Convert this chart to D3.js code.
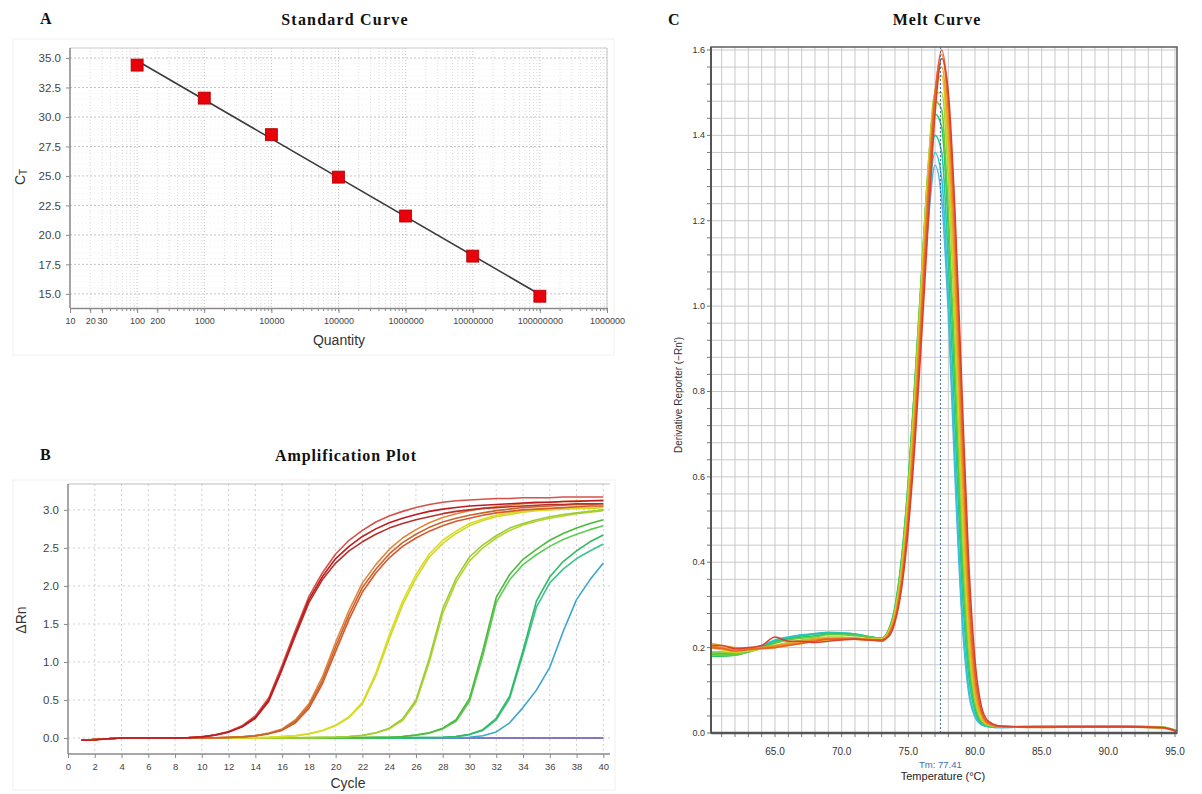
<!DOCTYPE html>
<html><head><meta charset="utf-8">
<script src="https://cdn.jsdelivr.net/npm/d3@7"></script>
<style>body{margin:0;background:#fff}svg{display:block}</style>
</head><body>
<svg id="c" width="1202" height="794"></svg>
<script>
// ---------------- DATA ----------------
// Panel A: standard curve
const stdQuantity = [1e2, 1e3, 1e4, 1e5, 1e6, 1e7, 1e8];
const stdCt = [34.4, 31.6, 28.5, 24.9, 21.6, 18.2, 14.8];
const stdYTicks = [15, 17.5, 20, 22.5, 25, 27.5, 30, 32.5, 35];
const stdXTicks = [10, 20, 30, 100, 200, 1e3, 1e4, 1e5, 1e6, 1e7, 1e8, 1e9];
const stdXTickLabels = ["10","20","30","100","200","1000","10000","100000","1000000","10000000","100000000","1000000"];

// Panel B: amplification plot (ΔRn per cycle)
const cycles = [1,2,3,4,5,6,7,8,9,10,11,12,13,14,15,16,17,18,19,20,21,22,23,24,25,26,27,28,29,30,31,32,33,34,35,36,37,38,39,40];
const ampXTicks = [0,2,4,6,8,10,12,14,16,18,20,22,24,26,28,30,32,34,36,38,40];
const ampYTicks = [0, 0.5, 1.0, 1.5, 2.0, 2.5, 3.0];
const ampRed1 = [-0.03,-0.025,-0.01,0,0,0,0,0,0.005,0.015,0.04,0.08,0.15,0.27,0.5,0.92,1.38,1.82,2.12,2.36,2.52,2.65,2.75,2.83,2.89,2.94,2.98,3.01,3.03,3.05,3.06,3.07,3.08,3.09,3.1,3.1,3.11,3.11,3.12,3.12];
const ampRed2 = [-0.03,-0.02,-0.01,0,0,0,0,0,0.005,0.016,0.042,0.085,0.16,0.29,0.53,0.96,1.42,1.86,2.17,2.42,2.6,2.73,2.84,2.92,2.98,3.03,3.07,3.1,3.12,3.13,3.14,3.15,3.15,3.16,3.16,3.16,3.17,3.17,3.17,3.17];
const ampRed3 = [-0.03,-0.02,-0.01,0,0,0,0,0,0.004,0.014,0.038,0.078,0.145,0.26,0.48,0.9,1.35,1.78,2.08,2.3,2.46,2.58,2.68,2.76,2.82,2.87,2.91,2.95,2.98,3.0,3.02,3.03,3.04,3.05,3.06,3.07,3.07,3.08,3.08,3.08];
const ampOrange1 = [-0.03,-0.02,-0.01,0,0,0,0,0,0,0,0.003,0.008,0.015,0.03,0.06,0.11,0.22,0.42,0.75,1.2,1.62,1.98,2.22,2.42,2.57,2.68,2.77,2.84,2.89,2.93,2.96,2.99,3.01,3.03,3.04,3.05,3.06,3.07,3.07,3.08];
const ampOrange2 = [-0.03,-0.02,-0.01,0,0,0,0,0,0,0,0.003,0.008,0.016,0.032,0.065,0.12,0.24,0.45,0.8,1.26,1.68,2.04,2.28,2.48,2.63,2.74,2.83,2.9,2.95,2.99,3.02,3.04,3.06,3.08,3.09,3.1,3.11,3.12,3.12,3.13];
const ampOrange3 = [-0.03,-0.02,-0.01,0,0,0,0,0,0,0,0.002,0.007,0.014,0.028,0.055,0.1,0.2,0.39,0.71,1.14,1.56,1.92,2.17,2.37,2.52,2.63,2.72,2.79,2.85,2.89,2.93,2.96,2.98,3.0,3.01,3.02,3.03,3.04,3.05,3.05];
const ampYellow1 = [-0.03,-0.02,-0.01,0,0,0,0,0,0,0,0,0,0,0.005,0.01,0.02,0.03,0.06,0.1,0.17,0.28,0.47,0.85,1.35,1.8,2.15,2.42,2.6,2.72,2.82,2.88,2.93,2.96,2.98,3.0,3.01,3.02,3.03,3.03,3.04];
const ampYellow2 = [-0.03,-0.02,-0.01,0,0,0,0,0,0,0,0,0,0,0.004,0.009,0.018,0.028,0.055,0.095,0.16,0.27,0.45,0.82,1.3,1.75,2.1,2.38,2.56,2.69,2.79,2.86,2.91,2.94,2.97,2.99,3.0,3.01,3.02,3.02,3.03];
const ampLime1 = [-0.03,-0.02,-0.01,0,0,0,0,0,0,0,0,0,0,0,0,0,0.003,0.005,0.008,0.012,0.02,0.035,0.07,0.13,0.25,0.5,1.05,1.7,2.1,2.38,2.54,2.66,2.76,2.82,2.87,2.91,2.94,2.96,2.98,3.0];
const ampLime2 = [-0.03,-0.02,-0.01,0,0,0,0,0,0,0,0,0,0,0,0,0,0.003,0.005,0.008,0.012,0.02,0.033,0.065,0.12,0.23,0.47,1.0,1.64,2.05,2.33,2.5,2.63,2.73,2.8,2.85,2.89,2.92,2.95,2.97,2.99];
const ampGreen1 = [-0.03,-0.02,-0.01,0,0,0,0,0,0,0,0,0,0,0,0,0,0,0,0,0,0.003,0.005,0.008,0.01,0.02,0.04,0.07,0.13,0.24,0.52,1.15,1.85,2.15,2.35,2.48,2.6,2.69,2.76,2.82,2.87];
const ampGreen2 = [-0.03,-0.02,-0.01,0,0,0,0,0,0,0,0,0,0,0,0,0,0,0,0,0,0.003,0.005,0.008,0.01,0.02,0.038,0.065,0.12,0.22,0.48,1.08,1.78,2.08,2.28,2.41,2.52,2.61,2.68,2.74,2.79];
const ampTeal1 = [-0.03,-0.02,-0.01,0,0,0,0,0,0,0,0,0,0,0,0,0,0,0,0,0,0,0,0,0,0.003,0.005,0.007,0.01,0.02,0.05,0.11,0.26,0.55,1.15,1.8,2.12,2.32,2.46,2.58,2.67];
const ampTeal2 = [-0.03,-0.02,-0.01,0,0,0,0,0,0,0,0,0,0,0,0,0,0,0,0,0,0,0,0,0,0.003,0.005,0.007,0.01,0.018,0.045,0.1,0.24,0.52,1.1,1.72,2.04,2.22,2.36,2.46,2.55];
const ampCyan = [-0.03,-0.02,-0.01,0,0,0,0,0,0,0,0,0,0,0,0,0,0,0,0,0,0,0,0,0,0,0,0,0.003,0.005,0.01,0.03,0.08,0.2,0.4,0.63,0.93,1.4,1.82,2.08,2.3];
const ampNTC = [-0.03,-0.02,-0.01,0,0,0,0,0,0,0,0,0,0,0,0,0,0,0,0,0,0,0,0,0,0,0,0,0,0,0,0,0,0,0,0,0,0,0,0,0];

// Panel C: melt curve (derivative reporter vs temperature)
const meltTemp = [60.2,61,62,63,64,65,66,67,68,69,70,71,72,73,73.5,74,74.5,75,75.5,76,76.5,77,77.5,78,78.5,79,79.5,80,80.5,81,82,85,88,91,94,95.1];
const meltXTicks = [65, 70, 75, 80, 85, 90, 95];
const meltYTicks = [0, 0.2, 0.4, 0.6, 0.8, 1.0, 1.2, 1.4, 1.6];
const meltTm = 77.41;
const meltRed       = [.205,.205,.198,.2,.205,.225,.215,.215,.212,.215,.218,.22,.218,.218,.225,.26,.34,.48,.68,.93,1.2,1.45,1.58,1.5,1.22,.82,.42,.17,.06,.028,.016,.014,.015,.015,.013,.005];
const meltOrangeRed = [.2,.198,.192,.195,.198,.2,.205,.21,.215,.22,.22,.22,.218,.215,.228,.265,.35,.5,.71,.97,1.25,1.49,1.6,1.48,1.18,.76,.37,.14,.05,.024,.015,.014,.014,.014,.013,.004];
const meltOrange    = [.205,.2,.195,.197,.2,.203,.207,.212,.218,.22,.222,.222,.22,.215,.23,.27,.36,.52,.74,1.0,1.28,1.5,1.59,1.45,1.12,.7,.33,.12,.045,.022,.015,.013,.014,.014,.012,.004];
const meltAmber     = [.21,.205,.2,.198,.2,.205,.21,.215,.22,.222,.222,.22,.218,.218,.232,.275,.37,.53,.76,1.02,1.3,1.5,1.56,1.4,1.06,.64,.29,.1,.04,.02,.015,.014,.015,.014,.013,.005];
const meltYellow    = [.2,.195,.19,.193,.197,.2,.205,.21,.215,.218,.22,.22,.22,.22,.235,.28,.38,.55,.78,1.05,1.32,1.5,1.54,1.35,1.0,.58,.25,.09,.035,.02,.015,.014,.015,.015,.013,.005];
const meltLime      = [.19,.19,.188,.192,.198,.205,.212,.218,.222,.225,.225,.223,.22,.22,.235,.285,.39,.57,.8,1.07,1.33,1.5,1.5,1.3,.94,.52,.22,.08,.03,.018,.014,.015,.016,.015,.014,.005];
const meltGreen     = [.185,.183,.183,.19,.198,.21,.218,.222,.225,.23,.23,.228,.225,.222,.238,.29,.4,.58,.82,1.08,1.33,1.48,1.46,1.22,.86,.46,.19,.07,.028,.018,.014,.016,.016,.015,.014,.006];
const meltGreen2    = [.18,.18,.182,.19,.2,.212,.22,.225,.228,.232,.232,.23,.225,.222,.24,.295,.41,.59,.83,1.08,1.32,1.45,1.42,1.18,.8,.42,.17,.06,.025,.017,.014,.015,.016,.016,.014,.006];
const meltTeal      = [.185,.185,.186,.193,.202,.215,.222,.228,.232,.235,.234,.232,.226,.222,.24,.295,.41,.59,.82,1.06,1.28,1.4,1.36,1.1,.72,.36,.14,.05,.022,.016,.014,.015,.015,.015,.013,.005];
const meltCyan      = [.19,.188,.188,.195,.205,.218,.225,.23,.233,.236,.235,.232,.226,.222,.238,.29,.4,.57,.8,1.03,1.24,1.36,1.3,1.02,.64,.3,.11,.04,.02,.015,.013,.014,.014,.014,.013,.005];
const meltSky       = [.188,.186,.187,.194,.203,.216,.224,.229,.232,.234,.233,.23,.225,.222,.236,.285,.39,.56,.78,1.0,1.2,1.33,1.25,.98,.6,.28,.1,.038,.019,.015,.013,.014,.014,.014,.012,.005];

// ---------------- DRAWING ----------------
const svg = d3.select("#c");
const serif = "'Liberation Serif','Times New Roman',serif";
const sans = "'Liberation Sans',Arial,sans-serif";

function heading(x, y, t, anchor, spacing) {
  svg.append("text").attr("x", x).attr("y", y).attr("text-anchor", anchor)
    .attr("font-family", serif).attr("font-weight", "bold").attr("font-size", 16)
    .attr("letter-spacing", spacing).attr("fill", "#111").text(t);
}
heading(40, 24, "A", "start", 0);
heading(345, 25, "Standard Curve", "middle", 1.2);
heading(40, 460, "B", "start", 0);
heading(346, 461, "Amplification Plot", "middle", 0.9);
heading(668, 25, "C", "start", 0);
heading(937, 25, "Melt Curve", "middle", 1.0);

// faint panel boxes
[[13,39,601,316],[13,480,602,310]].forEach(b => svg.append("rect").attr("x",b[0]).attr("y",b[1]).attr("width",b[2]).attr("height",b[3])
  .attr("fill","none").attr("stroke","#f0f0f0"));

// ===== Panel A =====
(function(){
  const L=70,R=607,T=48,B=308;
  const x = d3.scaleLog().domain([10,1e9]).range([L,R]);
  const y = d3.scaleLinear().domain([13.8,35.85]).range([B,T]);
  const g = svg.append("g");
  // vertical grid (log minors)
  const vgrid = [];
  for (let e=1;e<9;e++) for (let k=1;k<10;k++) vgrid.push(k*Math.pow(10,e));
  vgrid.push(1e9);
  g.selectAll(".vg").data(vgrid).join("line")
    .attr("x1",d=>x(d)).attr("x2",d=>x(d)).attr("y1",T).attr("y2",B)
    .attr("stroke",d=>Math.abs(Math.log10(d)%1)<1e-9?"#c4c4c4":"#dcdcdc")
    .attr("stroke-dasharray","1,2");
  const hgrid = d3.range(14,35.6,0.5);
  g.selectAll(".hg").data(hgrid).join("line")
    .attr("x1",L).attr("x2",R).attr("y1",d=>y(d)).attr("y2",d=>y(d))
    .attr("stroke",d=>(Math.abs(d/2.5-Math.round(d/2.5))<1e-9)?"#c4c4c4":"#ececec")
    .attr("stroke-dasharray",d=>(Math.abs(d/2.5-Math.round(d/2.5))<1e-9)?"2,2":"1,3");
  // frame
  g.append("line").attr("x1",L).attr("x2",R).attr("y1",T).attr("y2",T).attr("stroke","#c8c8c8");
  g.append("line").attr("x1",R).attr("x2",R).attr("y1",T).attr("y2",B).attr("stroke","#c8c8c8");
  // axes
  const ay = d3.axisLeft(y).tickValues(stdYTicks).tickFormat(d3.format(".1f")).tickSize(4).tickSizeOuter(0);
  const gy = g.append("g").attr("transform",`translate(${L},0)`).call(ay);
  gy.select(".domain").attr("stroke","#8a8a8a").attr("stroke-width",1.5).attr("d",`M0,${T}V${B}`);
  gy.selectAll(".tick line").attr("stroke","#8a8a8a");
  gy.selectAll("text").attr("font-family",sans).attr("font-size",11.5).attr("fill","#444").attr("dx",-2);
  const minorX = vgrid.filter(v=>v>10);
  g.selectAll(".mxt").data(minorX).join("line").attr("x1",d=>x(d)).attr("x2",d=>x(d)).attr("y1",B).attr("y2",B+3).attr("stroke","#8a8a8a");
  const ax = d3.axisBottom(x).tickValues(stdXTicks).tickFormat((d,i)=>stdXTickLabels[i]).tickSize(5).tickSizeOuter(0);
  const gx = g.append("g").attr("transform",`translate(0,${B})`).call(ax);
  gx.select(".domain").attr("stroke","#8a8a8a").attr("stroke-width",1.5);
  gx.selectAll(".tick line").attr("stroke","#8a8a8a");
  gx.selectAll("text").attr("font-family",sans).attr("font-size",9).attr("fill","#444").attr("dy","0.9em");
  // fit line (least squares on log10 quantity)
  const lx = stdQuantity.map(Math.log10);
  const mx = d3.mean(lx), my = d3.mean(stdCt);
  const slope = d3.sum(lx.map((v,i)=>(v-mx)*(stdCt[i]-my))) / d3.sum(lx.map(v=>(v-mx)*(v-mx)));
  const icpt = my - slope*mx;
  const q0 = stdQuantity[0], q1 = stdQuantity[stdQuantity.length-1];
  g.append("line").attr("x1",x(q0)).attr("y1",y(icpt+slope*Math.log10(q0)))
    .attr("x2",x(q1)).attr("y2",y(icpt+slope*Math.log10(q1)))
    .attr("stroke","#3c3c3c").attr("stroke-width",1.6);
  g.selectAll(".pt").data(stdQuantity).join("rect")
    .attr("x",d=>x(d)-6).attr("y",(d,i)=>y(stdCt[i])-6).attr("width",12).attr("height",12)
    .attr("fill","#e8000b").attr("stroke","#b00000").attr("stroke-width",0.8);
  // labels
  const cl = svg.append("text").attr("transform","translate(25,177) rotate(-90)").attr("text-anchor","middle")
    .attr("font-family",sans).attr("font-size",14).attr("fill","#333");
  cl.append("tspan").text("C");
  cl.append("tspan").attr("font-size",10).attr("dy",2).text("T");
  svg.append("text").attr("x",339).attr("y",345).attr("text-anchor","middle")
    .attr("font-family",sans).attr("font-size",14).attr("fill","#333").text("Quantity");
})();

// ===== Panel B =====
(function(){
  const L=68,R=610,T=484,B=754;
  const x = d3.scaleLinear().domain([0,40.5]).range([L,R]);
  const y = d3.scaleLinear().domain([-0.21,3.34]).range([B,T]);
  const g = svg.append("g");
  g.selectAll(".vg").data(ampXTicks.filter(d=>d>0)).join("line")
    .attr("x1",d=>x(d)).attr("x2",d=>x(d)).attr("y1",T).attr("y2",B)
    .attr("stroke","#d0d0d0").attr("stroke-dasharray","2,3");
  g.selectAll(".hg").data(ampYTicks).join("line")
    .attr("x1",L).attr("x2",R).attr("y1",d=>y(d)).attr("y2",d=>y(d))
    .attr("stroke","#d0d0d0").attr("stroke-dasharray","2,3");
  g.append("line").attr("x1",L).attr("x2",R).attr("y1",T).attr("y2",T).attr("stroke","#bdbdbd");
  const ay = d3.axisLeft(y).tickValues(ampYTicks).tickFormat(d3.format(".1f")).tickSize(4).tickSizeOuter(0);
  const gy = g.append("g").attr("transform",`translate(${L},0)`).call(ay);
  gy.select(".domain").attr("stroke","#8a8a8a").attr("stroke-width",1.5).attr("d",`M0,${T}V${B}`);
  gy.selectAll(".tick line").attr("stroke","#8a8a8a");
  gy.selectAll("text").attr("font-family",sans).attr("font-size",11.5).attr("fill","#444").attr("dx",-2);
  const ax = d3.axisBottom(x).tickValues(ampXTicks).tickFormat(d3.format("d")).tickSize(4).tickSizeOuter(0);
  const gx = g.append("g").attr("transform",`translate(0,${B})`).call(ax);
  gx.select(".domain").attr("stroke","#8a8a8a").attr("stroke-width",1.5).attr("d",`M${L},0H${R}`);
  gx.selectAll(".tick line").attr("stroke","#8a8a8a");
  gx.selectAll("text").attr("font-family",sans).attr("font-size",9.5).attr("fill","#444").attr("dy","0.9em");
  const series = [
    {v: ampNTC, c: "#5a4fb2"},
    {v: ampCyan, c: "#3aa6cf"},
    {v: ampTeal2, c: "#3ec48c"},
    {v: ampTeal1, c: "#2dbb63"},
    {v: ampGreen2, c: "#5ccc56"},
    {v: ampGreen1, c: "#4dba3a"},
    {v: ampLime2, c: "#b5d52e"},
    {v: ampLime1, c: "#9ccc36"},
    {v: ampYellow2, c: "#cbd92a"},
    {v: ampYellow1, c: "#dcdc22"},
    {v: ampOrange3, c: "#d8582a"},
    {v: ampOrange2, c: "#e3843a"},
    {v: ampOrange1, c: "#c56530"},
    {v: ampRed3, c: "#b3322a"},
    {v: ampRed2, c: "#d5524a"},
    {v: ampRed1, c: "#bf1a1f"}
  ];
  const line = d3.line().x((d,i)=>x(cycles[i])).y(d=>y(d));
  g.selectAll(".amp").data(series).join("path")
    .attr("d",d=>line(d.v)).attr("fill","none").attr("stroke",d=>d.c)
    .attr("stroke-width",1.6).attr("stroke-linejoin","round");
  svg.append("text").attr("transform","translate(26,620) rotate(-90)").attr("text-anchor","middle")
    .attr("font-family",sans).attr("font-size",14).attr("fill","#333").text("ΔRn");
  svg.append("text").attr("x",348).attr("y",788).attr("text-anchor","middle")
    .attr("font-family",sans).attr("font-size",14).attr("fill","#333").text("Cycle");
})();

// ===== Panel C =====
(function(){
  const L=711,R=1177,T=47,B=733;
  const x = d3.scaleLinear().domain([60.2,95.15]).range([L,R]);
  const y = d3.scaleLinear().domain([0,1.607]).range([B,T]);
  const g = svg.append("g");
  const vgrid = d3.range(61,96,1);
  g.selectAll(".vg").data(vgrid).join("line")
    .attr("x1",d=>x(d)).attr("x2",d=>x(d)).attr("y1",T).attr("y2",B).attr("stroke","#c9c9c9");
  const hgrid = d3.range(1,41).map(k=>k*0.04);
  g.selectAll(".hg").data(hgrid).join("line")
    .attr("x1",L).attr("x2",R).attr("y1",d=>y(d)).attr("y2",d=>y(d)).attr("stroke","#c9c9c9");
  // ticks
  g.selectAll(".yt").data(hgrid.concat([0])).join("line")
    .attr("x1",L-4).attr("x2",L).attr("y1",d=>y(d)).attr("y2",d=>y(d)).attr("stroke","#777");
  g.selectAll(".xt").data(vgrid).join("line")
    .attr("x1",d=>x(d)).attr("x2",d=>x(d)).attr("y1",B).attr("y2",B+4).attr("stroke","#777");
  // curves
  const curves = [
    {v: meltSky, c: "#5ab2e6"},
    {v: meltCyan, c: "#30c4d8"},
    {v: meltTeal, c: "#26c79e"},
    {v: meltGreen2, c: "#2ec85a"},
    {v: meltGreen, c: "#66cc3a"},
    {v: meltLime, c: "#a8d536"},
    {v: meltYellow, c: "#dccf22"},
    {v: meltAmber, c: "#e8a526"},
    {v: meltOrange, c: "#f0862a"},
    {v: meltOrangeRed, c: "#e8602a"},
    {v: meltRed, c: "#d8432e"}
  ];
  const line = d3.line().x((d,i)=>x(meltTemp[i])).y(d=>y(d)).curve(d3.curveMonotoneX);
  g.selectAll(".melt").data(curves).join("path")
    .attr("d",d=>line(d.v)).attr("fill","none").attr("stroke",d=>d.c).attr("stroke-width",1.6);
  // Tm line
  g.append("line").attr("x1",x(meltTm)).attr("x2",x(meltTm)).attr("y1",T).attr("y2",B)
    .attr("stroke","#3a6fb0").attr("stroke-width",1).attr("stroke-dasharray","2,2");
  // frame
  g.append("rect").attr("x",L).attr("y",T).attr("width",R-L).attr("height",B-T)
    .attr("fill","none").attr("stroke","#5c5c5c").attr("stroke-width",1.5);
  g.append("line").attr("x1",L).attr("x2",R).attr("y1",B).attr("y2",B).attr("stroke","#555").attr("stroke-width",2.5);
  g.append("line").attr("x1",L).attr("x2",L).attr("y1",T).attr("y2",B).attr("stroke","#555").attr("stroke-width",2);
  // labels
  g.selectAll(".yl").data(meltYTicks).join("text")
    .attr("x",L-6).attr("y",d=>y(d)+3).attr("text-anchor","end")
    .attr("font-family",sans).attr("font-size",9).attr("fill","#333").text(d=>d3.format(".1f")(d));
  g.selectAll(".xl").data(meltXTicks).join("text")
    .attr("x",d=>x(d)).attr("y",B+22).attr("text-anchor","middle")
    .attr("font-family",sans).attr("font-size",10).attr("fill","#333").text(d=>d3.format(".1f")(d));
  svg.append("text").attr("x",x(meltTm)).attr("y",768).attr("text-anchor","middle")
    .attr("font-family",sans).attr("font-size",9.5).attr("fill","#3a6fb0").text("Tm: " + meltTm);
  svg.append("text").attr("x",943).attr("y",780).attr("text-anchor","middle")
    .attr("font-family",sans).attr("font-size",11).attr("fill","#222").text("Temperature (°C)");
  svg.append("text").attr("transform","translate(682,395) rotate(-90)").attr("text-anchor","middle")
    .attr("font-family",sans).attr("font-size",10).attr("fill","#333").text("Derivative Reporter (−Rn')");
})();
</script>
</body></html>
